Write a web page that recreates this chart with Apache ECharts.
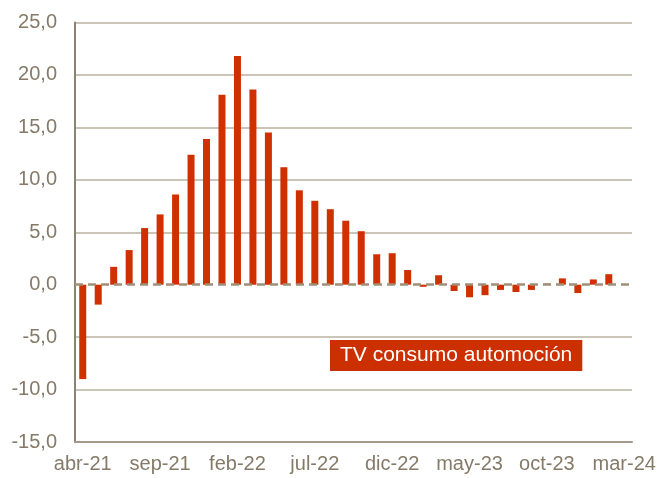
<!DOCTYPE html>
<html lang="es">
<head>
    <meta charset="UTF-8">
    <title>TV consumo automoción</title>
    <script src="https://cdn.jsdelivr.net/npm/echarts@6.0.0/dist/echarts.min.js"></script>
    <style>
        html, body { margin: 0; padding: 0; background: #fff; }
        #chart { width: 659px; height: 478px; }
    </style>
</head>
<body>
    <div id="chart"></div>
    <script>
        // meses abr-21 .. mar-24
        const months = [
            'abr-21', 'may-21', 'jun-21', 'jul-21', 'ago-21', 'sep-21', 'oct-21', 'nov-21', 'dic-21',
            'ene-22', 'feb-22', 'mar-22', 'abr-22', 'may-22', 'jun-22', 'jul-22', 'ago-22', 'sep-22',
            'oct-22', 'nov-22', 'dic-22', 'ene-23', 'feb-23', 'mar-23', 'abr-23', 'may-23', 'jun-23',
            'jul-23', 'ago-23', 'sep-23', 'oct-23', 'nov-23', 'dic-23', 'ene-24', 'feb-24', 'mar-24'
        ];
        // tasa de variación (%)
        const tvConsumo = [
            -9.0, -1.9, 1.7, 3.3, 5.4, 6.7, 8.6, 12.4, 13.9,
            18.1, 21.8, 18.6, 14.5, 11.2, 9.0, 8.0, 7.2, 6.1,
            5.1, 2.9, 3.0, 1.4, -0.2, 0.9, -0.6, -1.2, -1.0,
            -0.5, -0.7, -0.5, 0.1, 0.6, -0.8, 0.5, 1.0, null
        ];
        const seriesName = 'TV consumo automoción';
        const yTicks = { min: -15, max: 25, step: 5 };

        const textColor = '#857a68';
        const gridColor = '#cbc5b8';
        const fmt = v => v.toFixed(1).replace('.', ',');

        // linea de rejilla en 0 oculta (se dibuja discontinua encima)
        const gridColors = [];
        for (let v = yTicks.min; v <= yTicks.max; v += yTicks.step) {
            gridColors.push(v === 0 ? 'rgba(0,0,0,0)' : gridColor);
        }

        const chart = echarts.init(document.getElementById('chart'));
        chart.setOption({
            animation: false,
            grid: { left: 75, right: 27, top: 22.5, bottom: 36 },
            xAxis: {
                type: 'category',
                data: months,
                axisLine: { onZero: false, lineStyle: { color: '#a39a8a', width: 2 } },
                axisTick: { show: false },
                axisLabel: {
                    interval: 4,
                    color: textColor,
                    fontFamily: 'Liberation Sans, Arial',
                    fontSize: 20,
                    margin: 12
                }
            },
            yAxis: {
                type: 'value',
                min: yTicks.min,
                max: yTicks.max,
                interval: yTicks.step,
                axisLine: { show: true, lineStyle: { color: '#8c8270', width: 2 } },
                axisTick: { show: false },
                axisLabel: {
                    formatter: fmt,
                    color: textColor,
                    fontFamily: 'Liberation Sans, Arial',
                    fontSize: 20,
                    margin: 18
                },
                splitLine: { lineStyle: { color: gridColors, width: 2 } }
            },
            series: [{
                name: seriesName,
                type: 'bar',
                data: tvConsumo,
                barWidth: 7,
                itemStyle: { color: '#d03000' },
                markLine: {
                    silent: true,
                    z: 10,
                    symbol: 'none',
                    label: { show: false },
                    lineStyle: { color: '#a08f78', type: [8, 5], width: 2.5, opacity: 1 },
                    data: [{ yAxis: 0 }]
                }
            }],
            // leyenda como caja roja
            graphic: [{
                type: 'text',
                left: 330,
                top: 340,
                style: {
                    text: seriesName,
                    fill: '#fff',
                    font: '21px Liberation Sans, Arial',
                    backgroundColor: '#cc3000',
                    padding: [5, 10, 5, 10]
                }
            }]
        });
    </script>
</body>
</html>
